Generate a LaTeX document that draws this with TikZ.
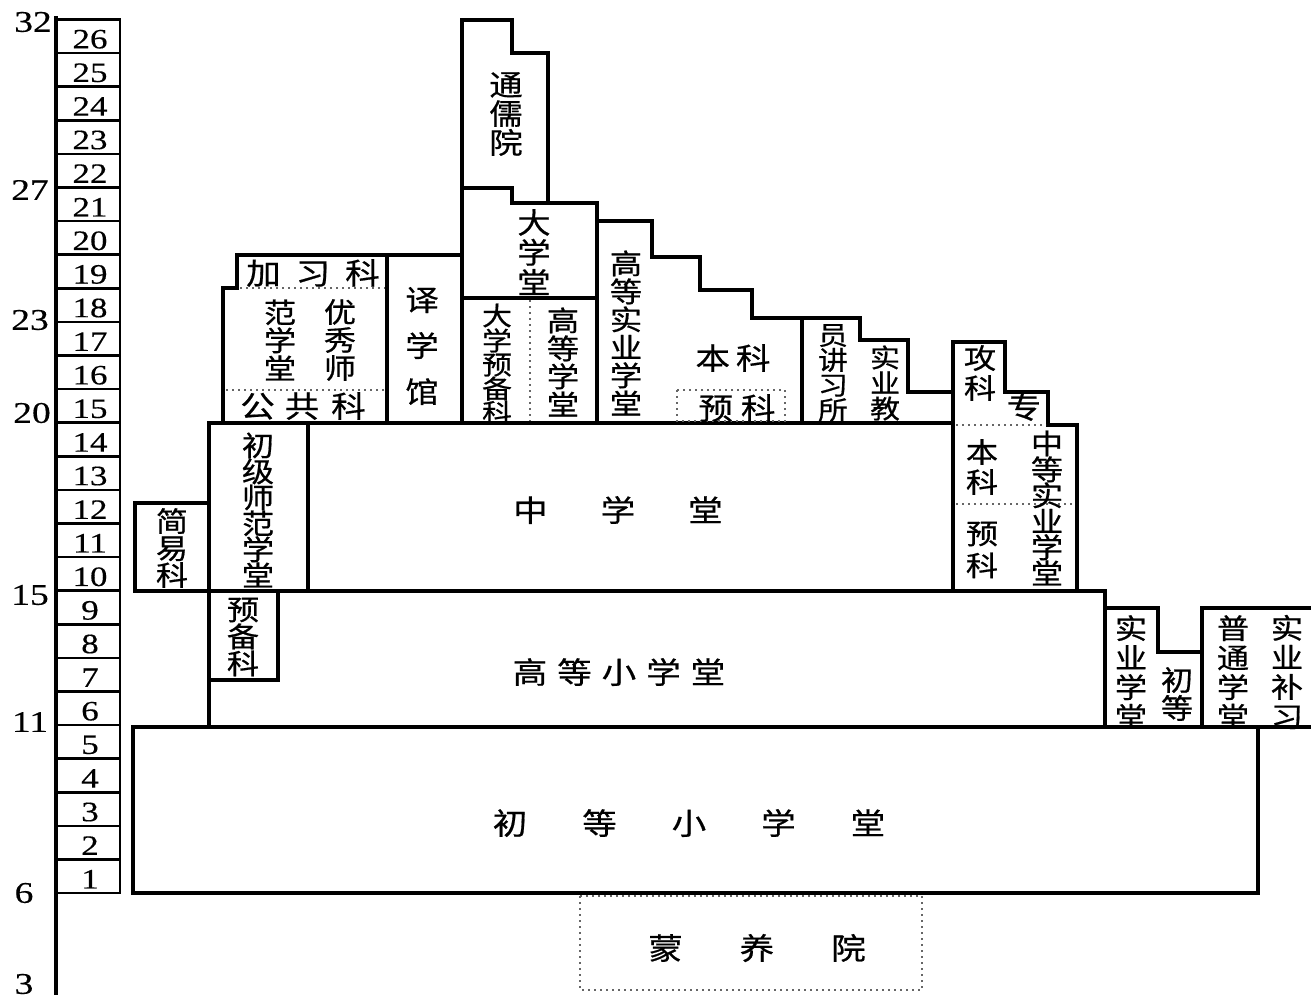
\documentclass[tikz,border=0pt]{standalone}
\usepackage{fontspec}
\newfontfamily\cjk[FakeStretch=1.15,FakeBold=0.6]{Noto Sans CJK SC}
\newfontfamily\numf[FakeStretch=1.25,FakeBold=0.4]{Liberation Serif}
\tikzset{
  wall/.style={line width=3.4pt, line join=miter, line cap=rect},
  thinwall/.style={line width=2.6pt},
  dots/.style={line width=1.2pt, dash pattern=on 2pt off 4pt, black!60},
  vt/.style={font=\cjk\fontsize{28}{#1}\selectfont, align=center, inner sep=0pt},
  ht/.style={font=\cjk\fontsize{30}{30}\selectfont, inner sep=0pt},
  num/.style={font=\numf\fontsize{28}{28}\selectfont, inner sep=0pt},
  axn/.style={font=\numf\fontsize{30}{30}\selectfont, inner sep=0pt},
}
\begin{document}
\begin{tikzpicture}[x=1pt,y=-1pt]
\useasboundingbox (0,0) rectangle (1311,999);
% axis and ladder
\draw[wall] (56,18) -- (56,993);
\foreach \i in {1,...,26}{
  \draw[thinwall] (57,{893-\i*33.6}) rectangle (120,{893-(\i-1)*33.6});
  \node[num] (g\i) at (90,{893-(\i-0.5)*33.6+3}) {\i};
}
\node[axn] (a32) at (33,22) {32};
\node[axn] (a27) at (30,190) {27};
\node[axn] (a23) at (30,320) {23};
\node[axn] (a20) at (32,413) {20};
\node[axn] (a15) at (30,595) {15};
\node[axn] (a11) at (30,722) {11};
\node[axn] (a6) at (24,893) {6};
\node[axn] (a3) at (24,984) {3};
% lower boxes
\draw[wall] (133,727) rectangle (1258,893);
\draw[wall] (209,591) rectangle (1105,727);
\draw[wall] (135,503) rectangle (209,591);
\draw[wall] (209,423) rectangle (308,591);
\draw[wall] (308,423) rectangle (953,591);
\draw[wall] (209,591) rectangle (278,680);
% upper left
\draw[wall] (223,423) -- (223,288) -- (237,288) -- (237,255) -- (387,255) -- (387,423);
\draw[dots] (240,288) -- (385,288);
\draw[dots] (226,390) -- (385,390);
\draw[wall] (387,255) rectangle (462,423);
% university
\draw[wall] (462,423) -- (462,20) -- (512,20) -- (512,53) -- (548,53) -- (548,203);
\draw[wall] (462,188) -- (512,188) -- (512,203) -- (597,203) -- (597,423);
\draw[wall] (462,298) -- (597,298);
\draw[dots] (530,300) -- (530,421);
% higher industrial
\draw[wall] (597,221) -- (652,221) -- (652,257) -- (700,257) -- (700,290) -- (752,290) -- (752,318) -- (802,318) -- (802,423);
\draw[dots] (677,390) rectangle (785,421);
\draw[wall] (802,318) -- (860,318) -- (860,340) -- (908,340) -- (908,392) -- (953,392);
% middle industrial
\draw[wall] (953,591) -- (953,342) -- (1005,342) -- (1005,392) -- (1048,392) -- (1048,425) -- (1077,425) -- (1077,591);
\draw[dots] (956,425) -- (1046,425);
\draw[dots] (956,504) -- (1075,504);
% right lower
\draw[wall] (1105,608) -- (1158,608) -- (1158,652) -- (1202,652) -- (1202,727);
\draw[wall] (1202,727) -- (1202,608) -- (1311,608);
\draw[wall] (1105,727) -- (1311,727);
% kindergarten
\draw[dots] (580,896) rectangle (922,990);
% texts
\node[vt=29, font=\cjk\fontsize{29}{29}\selectfont] (t1) at (506,114) {通\\儒\\院};
\node[vt=30, font=\cjk\fontsize{29}{30}\selectfont] (t2) at (534,252) {大\\学\\堂};
\node[vt=24, font=\cjk\fontsize{26}{24}\selectfont] (t3) at (497,364) {大\\学\\预\\备\\科};
\node[vt=28] (t4) at (563,362) {高\\等\\学\\堂};
\node[vt=28] (t5) at (626,333) {高\\等\\实\\业\\学\\堂};
\node[ht] (t6) at (733,358) {本\hspace{6pt}科};
\node[ht] (t7) at (737,408) {预\hspace{8pt}科};
\node[vt=25, font=\cjk\fontsize{26}{25}\selectfont] (t8) at (833,373) {员\\讲\\习\\所};
\node[vt=25, font=\cjk\fontsize{26}{25.5}\selectfont] (t9) at (885,383) {实\\业\\教};
\node[vt=30] (t10) at (980,373) {攻\\科};
\node[ht] (t11) at (1024,407) {专};
\node[vt=30] (t12) at (982,467) {本\\科};
\node[vt=32] (t13) at (982,550) {预\\科};
\node[vt=26] (t14) at (1047,508) {中\\等\\实\\业\\学\\堂};
\node[vt=26] (t15) at (258,510) {初\\级\\师\\范\\学\\堂};
\node[vt=27] (t16) at (172,548) {简\\易\\科};
\node[vt=27] (t17) at (243,637) {预\\备\\科};
\node[vt=29.5] (t18) at (1131,672) {实\\业\\学\\堂};
\node[vt=28] (t19) at (1177,694) {初\\等};
\node[vt=29.5] (t20) at (1233,672) {普\\通\\学\\堂};
\node[vt=29.5] (t21) at (1287,672) {实\\业\\补\\习};
\node[vt=28] (t22) at (280,340) {范\\学\\堂};
\node[vt=28] (t23) at (340,340) {优\\秀\\师};
\node[vt=46, font=\cjk\fontsize{29}{46}\selectfont] (t24) at (422,346) {译\\学\\馆};
\node[ht] (t25) at (313,273) {加\hspace{15pt}习\hspace{15pt}科};
\node[ht] (t26) at (303,406) {公\hspace{10pt}共\hspace{12pt}科};
\node[ht] (t27) at (618,510) {中\hspace{53pt}学\hspace{53pt}堂};
\node[ht] (t28) at (619,672) {高\hspace{10pt}等\hspace{10pt}小\hspace{10pt}学\hspace{10pt}堂};
\node[ht] (t29) at (689,823) {初\hspace{55pt}等\hspace{55pt}小\hspace{55pt}学\hspace{55pt}堂};
\node[ht] (t30) at (757,948) {蒙\hspace{57pt}养\hspace{57pt}院};
\end{tikzpicture}
\end{document}
